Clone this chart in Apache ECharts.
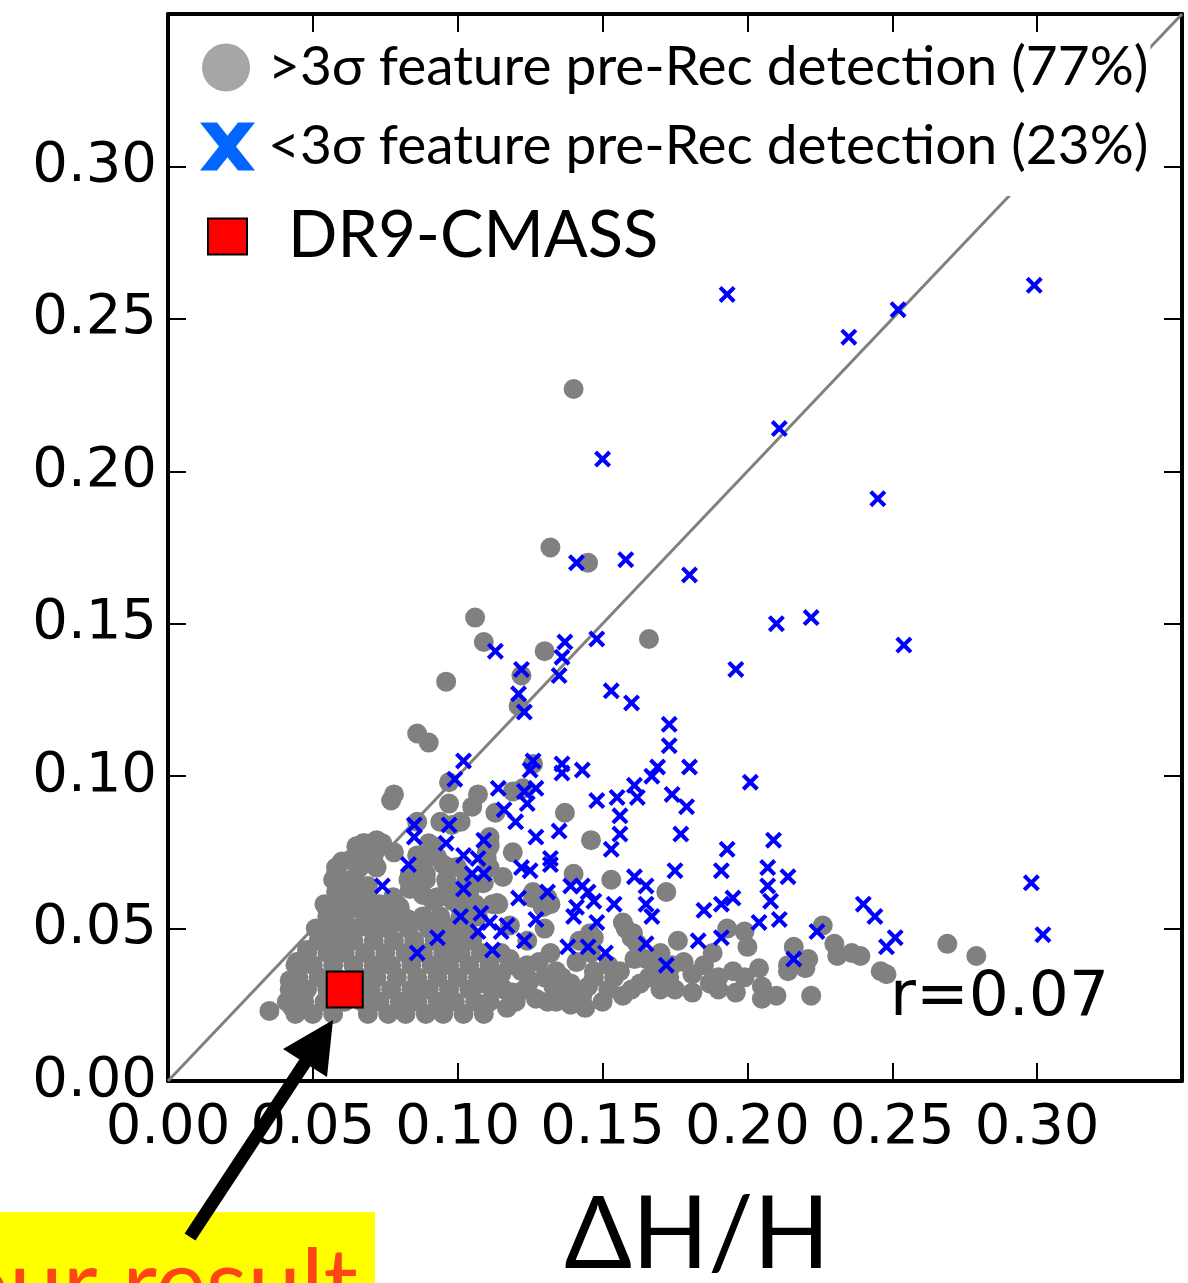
<!DOCTYPE html>
<html><head><meta charset="utf-8">
<script src="https://cdn.jsdelivr.net/npm/echarts@6/dist/echarts.min.js"></script>
<style>html,body{margin:0;padding:0;background:#fff}#c{width:1188px;height:1283px}</style>
</head><body><div id="c"></div>
<script>
// ---------- data ----------
const axisMin = 0, axisMax = 0.35, axisStep = 0.05;
const diagonal = [[0, 0], [0.35, 0.35]];
const nameGray = '>3σ feature pre-Rec detection (77%)';
const nameBlue = '<3σ feature pre-Rec detection (23%)';
const nameRed = 'DR9-CMASS';
const rLabel = 'r=0.07';
const dr9 = [[0.061, 0.030]];

const blueX = [
[0.193,0.258],[0.299,0.261],[0.252,0.253],[0.235,0.244],[0.211,0.214],[0.150,0.204],[0.245,0.191],[0.141,0.170],[0.158,0.171],[0.180,0.166],
[0.210,0.150],[0.222,0.152],[0.254,0.143],[0.137,0.144],[0.148,0.145],[0.113,0.141],[0.196,0.135],[0.122,0.135],[0.153,0.128],[0.135,0.133],
[0.121,0.127],[0.160,0.124],[0.123,0.121],[0.173,0.117],[0.173,0.110],[0.169,0.103],[0.180,0.103],[0.167,0.100],[0.143,0.102],[0.201,0.098],
[0.161,0.097],[0.148,0.092],[0.155,0.093],[0.162,0.093],[0.174,0.094],[0.179,0.090],[0.156,0.087],[0.177,0.081],[0.156,0.081],[0.153,0.076],
[0.193,0.076],[0.209,0.079],[0.175,0.069],[0.191,0.069],[0.207,0.070],[0.214,0.067],[0.161,0.067],[0.207,0.064],[0.298,0.065],[0.165,0.064],
[0.121,0.060],[0.131,0.062],[0.185,0.056],[0.191,0.058],[0.195,0.060],[0.208,0.059],[0.240,0.058],[0.244,0.054],[0.211,0.053],[0.204,0.052],
[0.224,0.049],[0.183,0.046],[0.191,0.047],[0.172,0.038],[0.216,0.040],[0.251,0.047],[0.248,0.044],[0.302,0.048],[0.102,0.105],[0.099,0.099],
[0.126,0.105],[0.125,0.102],[0.136,0.104],[0.136,0.101],[0.114,0.096],[0.123,0.095],[0.127,0.096],[0.124,0.091],[0.116,0.089],[0.120,0.085],
[0.135,0.082],[0.127,0.080],[0.109,0.079],[0.097,0.084],[0.096,0.078],[0.085,0.084],[0.085,0.080],[0.083,0.071],[0.102,0.074],[0.107,0.073],
[0.105,0.068],[0.109,0.068],[0.122,0.070],[0.125,0.069],[0.132,0.073],[0.132,0.071],[0.102,0.063],[0.139,0.064],[0.143,0.064],[0.145,0.062],
[0.147,0.059],[0.141,0.057],[0.140,0.054],[0.154,0.058],[0.165,0.058],[0.167,0.054],[0.148,0.052],[0.127,0.053],[0.101,0.054],[0.108,0.055],
[0.107,0.049],[0.111,0.052],[0.115,0.049],[0.117,0.051],[0.112,0.043],[0.123,0.046],[0.138,0.044],[0.145,0.044],[0.151,0.042],[0.165,0.045],
[0.093,0.047],[0.086,0.042],[0.074,0.064],[0.136,0.139]
];

const grayScattered = [
[0.140,0.227],[0.132,0.175],[0.145,0.170],[0.106,0.152],[0.109,0.144],[0.130,0.141],[0.166,0.145],[0.122,0.133],[0.096,0.131],[0.121,0.123],
[0.086,0.114],[0.090,0.111],[0.126,0.104],[0.097,0.098],[0.078,0.094],[0.077,0.092],[0.107,0.094],[0.105,0.090],[0.113,0.088],[0.119,0.095],
[0.097,0.091],[0.094,0.085],[0.101,0.085],[0.086,0.085],[0.137,0.088],[0.146,0.079],[0.119,0.075],[0.111,0.077],[0.140,0.068],[0.153,0.066],
[0.172,0.062],[0.111,0.070],[0.126,0.062],[0.132,0.058],[0.113,0.058],[0.118,0.051],[0.147,0.047],[0.157,0.052],[0.160,0.047],[0.162,0.045],
[0.170,0.042],[0.193,0.050],[0.199,0.049],[0.200,0.044],[0.216,0.044],[0.221,0.040],[0.226,0.051],[0.230,0.045],[0.236,0.042],[0.231,0.041],
[0.214,0.036],[0.220,0.037],[0.246,0.036],[0.195,0.036],[0.199,0.034],[0.204,0.037],[0.205,0.031],[0.205,0.027],[0.210,0.028],[0.222,0.028],
[0.181,0.029],[0.187,0.032],[0.181,0.035],[0.178,0.039],[0.165,0.040],[0.169,0.036],[0.157,0.028],[0.150,0.026],[0.139,0.025],[0.143,0.028],
[0.127,0.027],[0.119,0.029],[0.111,0.026],[0.109,0.022],[0.115,0.035],[0.122,0.036],[0.128,0.039],[0.134,0.036],[0.141,0.039],[0.147,0.036],
[0.154,0.034],[0.161,0.040],[0.139,0.032],[0.145,0.031],[0.133,0.031],[0.108,0.032],[0.125,0.033],[0.269,0.045],[0.279,0.041],[0.248,0.035],
[0.239,0.041],[0.1225,0.096],[0.0915,0.077],[0.111,0.078],[0.110,0.073],[0.0835,0.068],[0.088,0.066],[0.0963,0.065],[0.0835,0.063],[0.0915,0.059],
[0.112,0.058],[0.0984,0.059],[0.080,0.057],[0.0846,0.052],[0.1294,0.057],[0.131,0.060],[0.126,0.060],[0.158,0.050],[0.1457,0.0485],[0.1605,0.0485],
[0.117,0.024],[0.124,0.030],[0.131,0.026],[0.137,0.029],[0.144,0.024],[0.152,0.030],[0.156,0.036],[0.163,0.032],[0.170,0.030],[0.118,0.040],
[0.112,0.030],[0.130,0.034],[0.173,0.034],[0.190,0.030],[0.196,0.029]
];

const grayCloudEdge = [
[0.035,0.023],[0.043,0.024],[0.042,0.033],[0.0445,0.039],[0.048,0.043],[0.053,0.046],[0.055,0.056],[0.058,0.068],[0.060,0.072],[0.065,0.077],
[0.072,0.079],[0.078,0.075],[0.098,0.084],[0.111,0.080],[0.110,0.075],[0.109,0.065],[0.114,0.058],[0.089,0.068],[0.095,0.071],[0.088,0.061],
[0.093,0.060],[0.069,0.064],[0.063,0.064],[0.062,0.056],[0.055,0.050],[0.072,0.052],[0.078,0.052],[0.083,0.053],[0.092,0.049],[0.103,0.048],
[0.0673,0.078],[0.0628,0.0725],[0.0583,0.068],[0.0715,0.0708],[0.0777,0.0603],[0.088,0.0669],[0.0929,0.0734],[0.0998,0.0702],[0.1087,0.0649],
[0.1136,0.0584],[0.1156,0.0669],[0.0929,0.0603],[0.0687,0.0636],[0.0618,0.0561],[0.057,0.0505],[0.0663,0.0505],[0.0732,0.0528],[0.088,0.0528],
[0.0963,0.0505],[0.1032,0.0485]
];

// dense cloud, read row by row (y value, then x values along that row)
const cloudRowY = [0.022,0.026,0.030,0.034,0.038,0.042,0.046,0.050,0.054,0.058,0.062,0.066,0.070,0.074,0.078];
const cloudRowX = [
[0.044,0.050,0.057,0.069,0.076,0.082,0.089,0.095,0.102],
[0.041,0.047,0.054,0.061,0.067,0.073,0.080,0.086,0.093,0.099,0.106,0.120,0.134],
[0.042,0.048,0.055,0.070,0.077,0.084,0.090,0.097,0.104,0.116,0.123,0.160,0.175],
[0.045,0.052,0.058,0.066,0.072,0.079,0.086,0.093,0.100,0.107,0.113,0.136,0.147,0.166,0.190],
[0.044,0.050,0.057,0.064,0.071,0.077,0.084,0.091,0.097,0.104,0.111,0.118,0.124,0.152,0.174,0.185,0.214],
[0.048,0.055,0.061,0.068,0.075,0.082,0.088,0.095,0.101,0.108,0.115,0.132,0.146,0.188],
[0.052,0.058,0.064,0.071,0.078,0.085,0.092,0.098,0.105,0.124,0.142,0.176],
[0.051,0.057,0.063,0.070,0.076,0.083,0.090,0.097,0.103,0.130],
[0.055,0.061,0.068,0.074,0.081,0.088,0.094,0.101,0.107],
[0.054,0.060,0.067,0.073,0.079,0.100,0.106],
[0.058,0.064,0.069,0.098,0.104],
[0.057,0.063,0.083,0.089,0.096,0.103],
[0.058,0.066,0.072,0.088,0.097],
[0.065,0.071,0.086,0.092],
[0.068,0.074,0.090]
];

// ---------- build ----------
const grayCloud = [];
cloudRowY.forEach((y, i) => cloudRowX[i].forEach(x => grayCloud.push([x, y])));
const grayAll = grayCloud.concat(grayCloudEdge, grayScattered);

const X_SYMBOL = 'path://M0,1.7L1.7,0L5,3.3L8.3,0L10,1.7L6.7,5L10,8.3L8.3,10L5,6.7L1.7,10L0,8.3L3.3,5Z';
const X_ICON = 'path://M0,0M68,48M8,0L25,0L35.5,13.3L46,0L63,0L44,24L63,48L46,48L35.5,34.7L25,48L8,48L27,24Z';
const SQ_ICON = 'path://M0,0M68,48M15,6L54,6L54,42L15,42Z';

const tickFont = 'DejaVu Sans';
function axisCommon(pos, showLabel) {
  return {
    type: 'value', position: pos, min: axisMin, max: axisMax, interval: axisStep,
    axisLine: { show: true, onZero: false, lineStyle: { color: '#000', width: 4 } },
    axisTick: { show: true, inside: true, length: 18, lineStyle: { color: '#000', width: 2 } },
    axisLabel: { show: showLabel, fontSize: 56, fontFamily: tickFont, color: '#000',
      formatter: v => v.toFixed(2), showMaxLabel: false, showMinLabel: true },
    splitLine: { show: false }
  };
}
const xBottom = axisCommon('bottom', true);
xBottom.axisLabel.margin = 19;
xBottom.name = 'ΔH/H';
xBottom.nameLocation = 'middle';
xBottom.nameGap = 155;
xBottom.nameTextStyle = { fontFamily: 'Lato', fontSize: 100, color: '#000', verticalAlign: 'middle', padding: [0, 0, 0, 44] };
const yLeft = axisCommon('left', true);
yLeft.axisLabel.margin = 11;

const chart = echarts.init(document.getElementById('c'), null, { renderer: 'canvas' });
chart.setOption({
  animation: false,
  backgroundColor: '#fff',
  grid: { left: 168, right: 6, top: 14, bottom: 202, containLabel: false, outerBoundsMode: 'none' },
  xAxis: [xBottom, axisCommon('top', false)],
  yAxis: [yLeft, axisCommon('right', false)],
  legend: [
    {
      data: [
        { name: nameGray, icon: 'circle', itemStyle: { color: '#a6a6a6', borderWidth: 0 } },
        { name: nameBlue, icon: X_ICON, itemStyle: { color: '#0066ff', borderWidth: 0 } }
      ],
      orient: 'vertical', left: 188, top: 33, padding: [7, 2, 22, 4],
      itemWidth: 68, itemHeight: 48, itemGap: 24,
      backgroundColor: '#fff', selectedMode: false,
      textStyle: { fontFamily: 'Lato', fontSize: 55, color: '#000', padding: [0, 0, 0, 3] }
    },
    {
      data: [{ name: nameRed, icon: SQ_ICON, itemStyle: { color: '#ff0000', borderColor: '#000', borderWidth: 2 } }],
      orient: 'vertical', left: 192, top: 204, padding: 0,
      itemWidth: 68, itemHeight: 48, selectedMode: false,
      textStyle: { fontFamily: 'Lato', fontSize: 65, color: '#000', padding: [0, 0, 0, 22] }
    }
  ],
  series: [
    { type: 'line', data: diagonal, symbol: 'none', silent: true, z: 1,
      lineStyle: { color: '#808080', width: 3 } },
    { name: nameGray, type: 'scatter', data: grayAll, symbol: 'circle', symbolSize: 20, z: 2,
      itemStyle: { color: '#808080', opacity: 1 } },
    { name: nameBlue, type: 'scatter', data: blueX, symbol: X_SYMBOL, symbolSize: 17, z: 3,
      itemStyle: { color: '#0000ff', opacity: 1 } },
    { name: nameRed, type: 'scatter', data: dr9, symbol: 'rect', symbolSize: 36, z: 4,
      itemStyle: { color: '#ff0000', borderColor: '#000', borderWidth: 2, opacity: 1 } }
  ],
  graphic: [
    { type: 'text', x: 890, y: 999, z: 50,
      style: { text: rLabel, font: '63px "DejaVu Sans"', fill: '#000', align: 'left', verticalAlign: 'middle' } },
    { type: 'rect', shape: { x: 0, y: 1212, width: 375, height: 71 }, z: 50, style: { fill: '#ffff00' } },
    { type: 'text', x: 358, y: 1287, z: 51,
      style: { text: 'our result', font: '96px Lato', fill: '#ff4513', align: 'right', verticalAlign: 'middle' } },
    { type: 'line', shape: { x1: 190, y1: 1237, x2: 308, y2: 1058 }, z: 60,
      style: { stroke: '#000', lineWidth: 13 } },
    { type: 'polygon', shape: { points: [[333, 1020], [283, 1049], [327, 1077]] }, z: 60,
      style: { fill: '#000' } }
  ]
});
</script></body></html>
